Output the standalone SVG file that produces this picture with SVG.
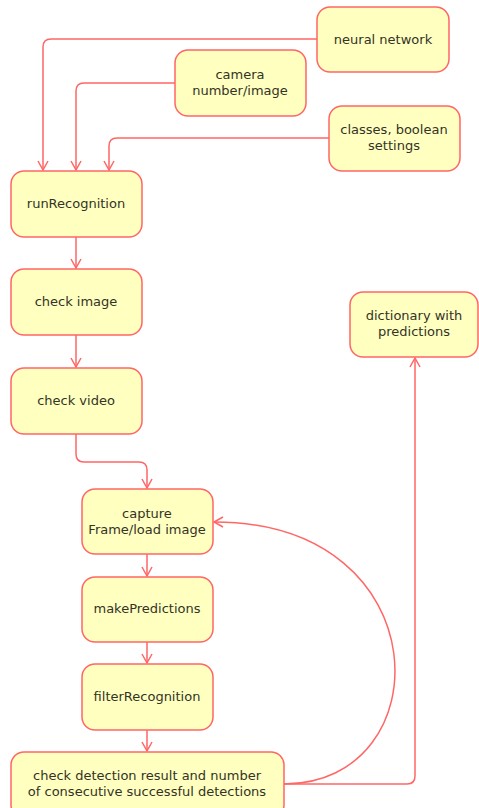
<svg xmlns="http://www.w3.org/2000/svg" width="479" height="808" viewBox="0 0 479 808">
<style>
.n rect{fill:#ffffc0;stroke:#ff6666;stroke-width:1.5}
.n text{font-family:"DejaVu Sans",Verdana,sans-serif;font-size:13px;fill:#333326;text-anchor:middle}
.c path{fill:none;stroke:#ff6666;stroke-width:1.5}
</style>
<defs>
<marker id="a" markerWidth="12" markerHeight="12" refX="10" refY="6" orient="auto" markerUnits="userSpaceOnUse">
<path d="M1,1 L10,6 L1,11" fill="none" stroke="#ff6666" stroke-width="1.5"/>
</marker>
</defs>
<rect width="479" height="808" fill="#fff"/>
<g class="c">
<path d="M317,39 H51 Q43,39 43,47 V170" marker-end="url(#a)"/>
<path d="M175,83 H84 Q76,83 76,91 V170" marker-end="url(#a)"/>
<path d="M329,138 H117 Q109,138 109,146 V170" marker-end="url(#a)"/>
<path d="M76,237 V268" marker-end="url(#a)"/>
<path d="M76,335 V367" marker-end="url(#a)"/>
<path d="M76,434 V454 Q76,462 84,462 H139 Q147,462 147,470 V488" marker-end="url(#a)"/>
<path d="M147,554 V576" marker-end="url(#a)"/>
<path d="M147,642 V663" marker-end="url(#a)"/>
<path d="M147,730 V751" marker-end="url(#a)"/>
<path d="M284,784 H407 Q415,784 415,776 V358" marker-end="url(#a)"/>
<path d="M284,784 C442,784 442,522 214,522" marker-end="url(#a)"/>
</g>
<g id="neural" class="n"><rect x="317" y="7" width="132" height="65" rx="13"/><text x="383" y="44">neural network</text></g>
<g id="camera" class="n"><rect x="175" y="50" width="131" height="66" rx="13"/><text x="240" y="79">camera</text><text x="240" y="95">number/image</text></g>
<g id="classes" class="n"><rect x="329" y="106" width="131" height="65" rx="13"/><text x="394" y="134">classes, boolean</text><text x="394" y="150">settings</text></g>
<g id="run" class="n"><rect x="11" y="171" width="131" height="66" rx="13"/><text x="76" y="208">runRecognition</text></g>
<g id="checkimage" class="n"><rect x="11" y="269" width="131" height="66" rx="13"/><text x="76" y="306">check image</text></g>
<g id="checkvideo" class="n"><rect x="11" y="368" width="131" height="66" rx="13"/><text x="76" y="405">check video</text></g>
<g id="dict" class="n"><rect x="350" y="292" width="128" height="65" rx="13"/><text x="414" y="320">dictionary with</text><text x="414" y="336">predictions</text></g>
<g id="capture" class="n"><rect x="82" y="489" width="131" height="65" rx="13"/><text x="147" y="518">capture</text><text x="147" y="534">Frame/load image</text></g>
<g id="make" class="n"><rect x="82" y="577" width="131" height="65" rx="13"/><text x="147" y="613">makePredictions</text></g>
<g id="filter" class="n"><rect x="82" y="664" width="131" height="66" rx="13"/><text x="147" y="701">filterRecognition</text></g>
<g id="checkdet" class="n"><rect x="11" y="752" width="273" height="66" rx="13"/><text x="147" y="780">check detection result and number</text><text x="147" y="796">of consecutive successful detections</text></g>
</svg>
